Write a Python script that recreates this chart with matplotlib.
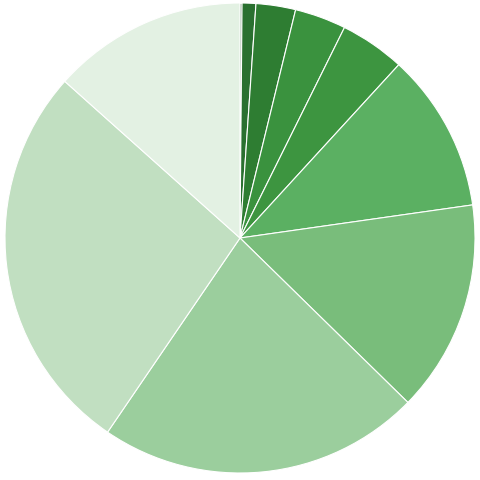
import matplotlib
matplotlib.use("Agg")
import matplotlib.pyplot as plt

# slice sizes (degrees of the circle)
sizes = [0.5, 3.4, 9.8, 12.7, 16.1, 39.4, 52.5, 79.9, 97.5, 48.2]
colors = ['#174f1c', '#2a7030', '#2e7d32', '#3a923e', '#3d9540',
          '#5bb062', '#79bd7b', '#9bce9d', '#c1dfc1', '#e3f1e3']

fig = plt.figure(figsize=(4.8, 4.8), dpi=100)
ax = fig.add_axes([0, 0, 1, 1])
ax.pie(sizes, colors=colors, startangle=90, counterclock=False, radius=1.0,
       wedgeprops={'edgecolor': 'white', 'linewidth': 0.8})

# pie centre at (240, 238) px, radius about 235 px
r = 235.0
ax.set_xlim(-240 / r, 240 / r)
ax.set_ylim(-242 / r, 238 / r)
ax.set_aspect('auto')
ax.axis('off')

fig.savefig('out.png', dpi=100)
